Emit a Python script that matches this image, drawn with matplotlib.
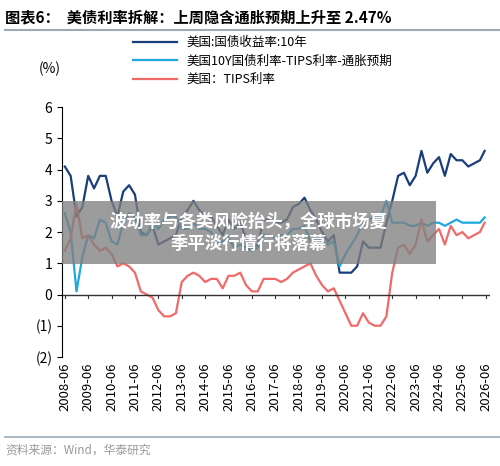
import matplotlib.pyplot as plt
import matplotlib.patches as mpatches

plt.rcParams['font.family'] = ['Noto Sans CJK SC', 'DejaVu Sans']

# quarterly readings, 2008-06 .. 2026-03 then 2026-05
quarters = [2008.42 + 0.25 * i for i in range(72)] + [2026.37]
us10y = [4.1, 3.8, 2.5, 2.8, 3.8, 3.4, 3.8, 3.8, 3.0, 2.5, 3.3, 3.5,
         3.2, 2.0, 1.9, 2.2, 1.6, 1.7, 1.8, 1.9, 2.5, 2.7, 3.0, 2.7,
         2.5, 2.5, 2.2, 1.9, 2.4, 2.1, 2.3, 1.8, 1.5, 1.6, 2.4, 2.4,
         2.3, 2.3, 2.4, 2.8, 2.9, 3.1, 2.7, 2.4, 2.0, 1.7, 1.9, 0.7,
         0.7, 0.7, 0.9, 1.7, 1.5, 1.5, 1.5, 2.3, 3.0, 3.8, 3.9, 3.5,
         3.8, 4.6, 3.9, 4.2, 4.4, 3.8, 4.5, 4.3, 4.3, 4.1, 4.2, 4.3, 4.6]
breakeven = [2.6, 2.0, 0.1, 1.2, 1.9, 1.8, 2.4, 2.3, 1.7, 1.6, 2.3, 2.6,
             2.5, 1.9, 1.9, 2.3, 2.1, 2.4, 2.5, 2.5, 2.1, 2.1, 2.3, 2.1,
             2.1, 2.0, 1.7, 1.7, 1.8, 1.5, 1.6, 1.5, 1.4, 1.5, 1.9, 1.9,
             1.8, 1.9, 1.9, 2.1, 2.1, 2.2, 1.7, 1.8, 1.7, 1.6, 1.7, 0.9,
             1.3, 1.6, 1.9, 2.3, 2.4, 2.5, 2.5, 3.0, 2.3, 2.3, 2.3, 2.2,
             2.2, 2.3, 2.2, 2.3, 2.3, 2.2, 2.3, 2.4, 2.3, 2.3, 2.3, 2.3, 2.47]
tips = [1.4, 1.8, 2.9, 1.8, 1.9, 1.6, 1.4, 1.5, 1.3, 0.9, 1.0, 0.9,
        0.7, 0.1, 0.0, -0.1, -0.5, -0.7, -0.7, -0.6, 0.4, 0.6, 0.7, 0.6,
        0.4, 0.5, 0.5, 0.2, 0.6, 0.6, 0.7, 0.3, 0.1, 0.1, 0.5, 0.5,
        0.5, 0.4, 0.5, 0.7, 0.8, 0.9, 1.0, 0.6, 0.3, 0.1, 0.2, -0.2,
        -0.6, -1.0, -1.0, -0.6, -0.9, -1.0, -1.0, -0.7, 0.7, 1.5, 1.6, 1.3,
        1.6, 2.4, 1.7, 1.9, 2.1, 1.6, 2.2, 1.9, 2.0, 1.8, 1.9, 2.0, 2.3]
tick_years = list(range(2008, 2027))

fig = plt.figure(figsize=(5, 4.66), dpi=100)
ax = fig.add_axes([0.124, 0.234, 0.856, 0.536])

l1, = ax.plot(quarters, us10y, color='#1a3d7c', lw=1.6)
l2, = ax.plot(quarters, breakeven, color='#1fa8e0', lw=1.6)
l3, = ax.plot(quarters, tips, color='#f06a6a', lw=1.6)

ax.set_xlim(2008.3, 2026.6)
ax.set_ylim(-2, 6)
ax.set_yticks(range(-2, 7))
ax.set_yticklabels(['(2)', '(1)', '0', '1', '2', '3', '4', '5', '6'], fontsize=10)
ax.set_xticks([y + 0.42 for y in tick_years])
ax.set_xticklabels([f'{y}-06' for y in tick_years], rotation=90, fontsize=9.5)
ax.tick_params(axis='x', length=0, pad=4)
for s in ['top', 'right', 'bottom']:
    ax.spines[s].set_visible(False)
ax.axhline(0, color='#333333', lw=1)
for y in tick_years:
    ax.plot([y + 0.42] * 2, [0, -0.1], color='#333333', lw=0.8, clip_on=False)

ax.legend([l1, l2, l3], ['美国:国债收益率:10年', '美国10Y国债利率-TIPS利率-通胀预期', '美国：TIPS利率'],
          loc='upper left', bbox_to_anchor=(0.14, 1.33), frameon=False,
          fontsize=9, handlelength=3.5, labelspacing=0.45)
fig.text(0.1, 0.843, '(%)', fontsize=10, ha='center')

fig.text(0.01, 0.962, '图表6：  美债利率拆解：上周隐含通胀预期上升至 2.47%',
         fontsize=11, fontweight='bold', va='center')
fig.add_artist(plt.Line2D([0.01, 1.0], [0.935, 0.935], color='#9aaab8', lw=1.5))
fig.add_artist(plt.Line2D([0.01, 1.0], [0.063, 0.063], color='#9aaab8', lw=1.2))
fig.text(0.01, 0.035, '资料来源：Wind，华泰研究', fontsize=8.5, color='#999999', va='center')

fig.add_artist(mpatches.Rectangle((0.124, 0.433), 0.748, 0.135, transform=fig.transFigure,
                                  color='#808080', alpha=0.78, lw=0))
fig.text(0.498, 0.5, '波动率与各类风险抬头，全球市场夏\n季平淡行情行将落幕', color='white',
         fontsize=12.5, fontweight='bold', ha='center', va='center', linespacing=1.3)

fig.savefig('out.png', dpi=100)
